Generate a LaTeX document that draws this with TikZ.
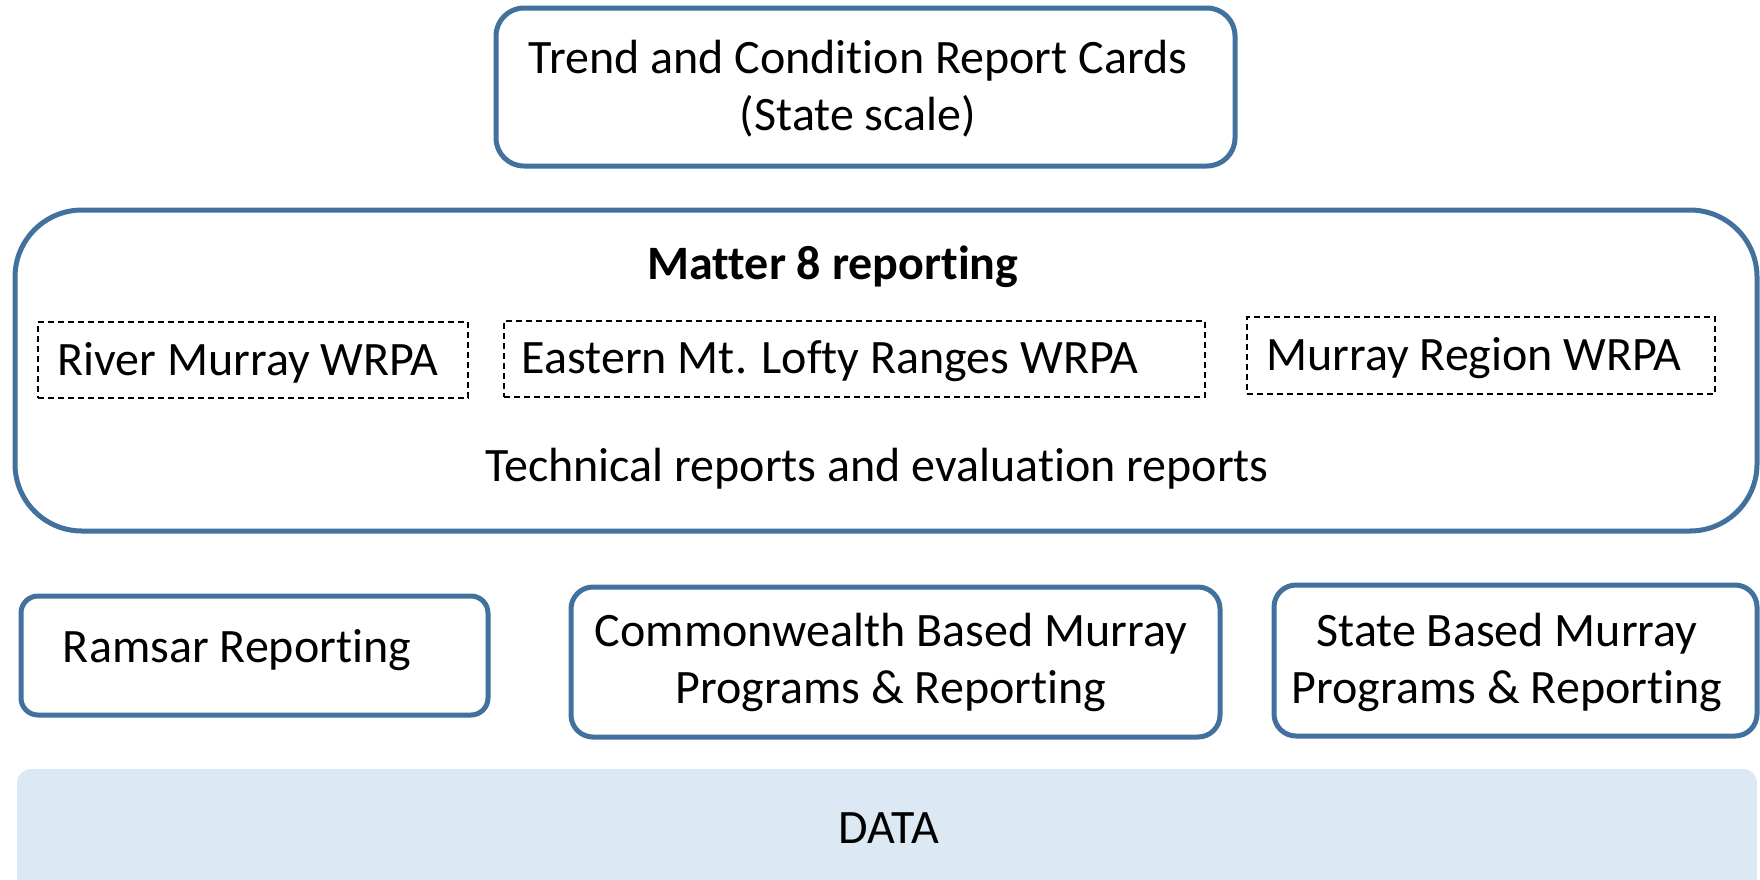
\documentclass[tikz,border=0pt]{standalone}
\usepackage{fontspec}
\setmainfont[Ligatures=NoCommon]{Carlito}
\definecolor{rim}{HTML}{41719C}
\definecolor{datafill}{HTML}{DDE8F5}
\tikzset{
  bluebox/.style={draw=rim, line width=5pt, fill=white, inner sep=0pt},
  dashbox/.style={draw=black, line width=1.4pt, dash pattern=on 6pt off 4pt, inner sep=0pt},
  lbl/.style={inner sep=0pt, align=center, font=\fontsize{48}{57}\selectfont},
}
\begin{document}
\begin{tikzpicture}[x=1pt,y=-1pt]
\useasboundingbox (0,0) rectangle (1760,879);
\clip (0,0) rectangle (1760,879);
% top box
\node[bluebox, rounded corners=28pt, minimum width=739pt, minimum height=158pt] (trend) at (865.5,87) {};
\node[lbl] (trendtxt) at (858,89) {Trend and Condition Report Cards\\(State scale)};
% matter 8 box
\node[bluebox, rounded corners=67pt, minimum width=1742pt, minimum height=321pt] (matter) at (886,370.5) {};
\node[lbl, font=\fontsize{48}{57}\selectfont\bfseries] (mattertxt) at (833,267) {Matter 8 reporting};
\node[dashbox, minimum width=430pt, minimum height=76pt] (river) at (253,360) {};
\node[lbl] (rivertxt) at (248,363) {River Murray WRPA};
\node[dashbox, minimum width=701pt, minimum height=76pt] (eastern) at (854.5,359) {};
\node[lbl] (easterntxt) at (830,361) {Eastern Mt. Lofty Ranges WRPA};
\node[dashbox, minimum width=468pt, minimum height=77pt] (region) at (1481,355.5) {};
\node[lbl] (regiontxt) at (1474,358) {Murray Region WRPA};
\node[lbl] (techtxt) at (877,469) {Technical reports and evaluation reports};
% lower boxes
\node[bluebox, rounded corners=17pt, minimum width=467pt, minimum height=119pt] (ramsar) at (254.5,655.5) {};
\node[lbl] (ramsartxt) at (237,650) {Ramsar Reporting};
\node[bluebox, rounded corners=22pt, minimum width=649pt, minimum height=150pt] (common) at (895.5,662) {};
\node[lbl] (commontxt) at (891,662) {Commonwealth Based Murray\\Programs \& Reporting};
\node[bluebox, rounded corners=22pt, minimum width=483pt, minimum height=151pt] (state) at (1515.5,660.5) {};
\node[lbl] (statetxt) at (1507,662) {State Based Murray\\Programs \& Reporting};
% data
\node[fill=datafill, rounded corners=14pt, inner sep=0pt, minimum width=1740pt, minimum height=140pt] (data) at (887,839) {};
\node[lbl] (datatxt) at (889,828) {DATA};
\end{tikzpicture}
\end{document}
